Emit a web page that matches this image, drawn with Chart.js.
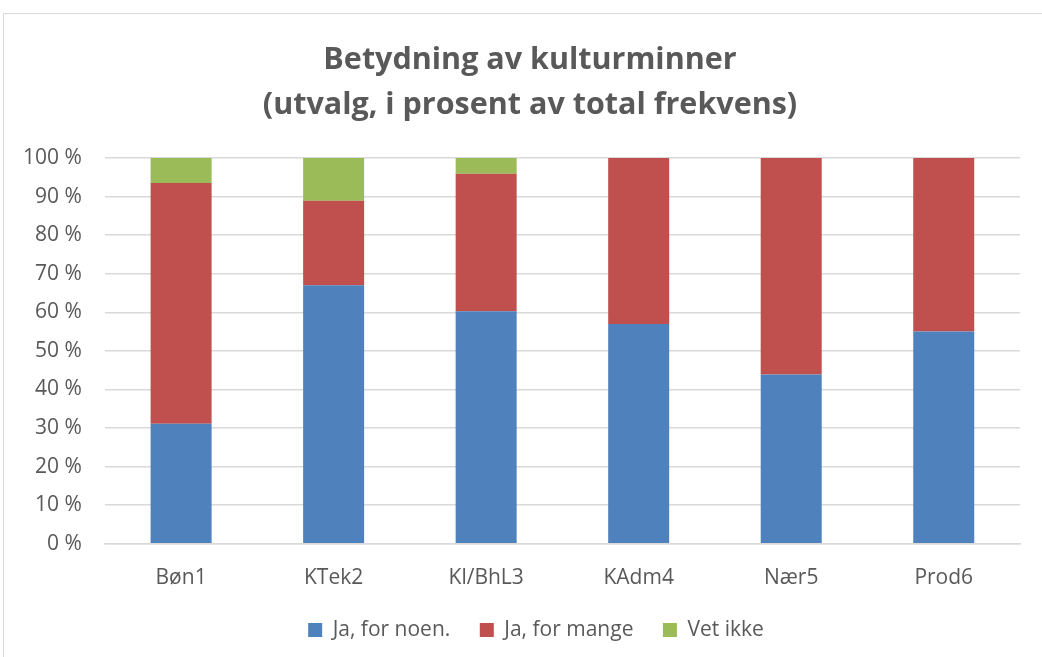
<!DOCTYPE html>
<html>
<head>
<meta charset="utf-8">
<script src="https://cdn.jsdelivr.net/npm/chart.js@4/dist/chart.umd.min.js"></script>
<style>
  html, body { margin: 0; padding: 0; background: #ffffff; }
  #frame { position: absolute; left: 3px; top: 13px; width: 1040px; height: 650px; border: 1px solid #d9d9d9; box-sizing: border-box; }
  #wrap { position: absolute; left: 0; top: 0; width: 1042px; height: 657px; }
</style>
</head>
<body>
<div id="frame"></div>
<div id="wrap"><canvas id="c" width="1042" height="657"></canvas></div>
<script>
const categories = ["Bøn1", "KTek2", "Kl/BhL3", "KAdm4", "Nær5", "Prod6"];
const jaNoen = [31.1, 67.0, 60.3, 57.0, 43.9, 55.0];
const jaMange = [62.4, 21.9, 35.6, 43.0, 56.1, 45.0];
const vetIkke = [6.5, 11.1, 4.1, 0, 0, 0];
const seriesNames = ["Ja, for noen.", "Ja, for mange", "Vet ikke"];
const titleLines = ["Betydning av kulturminner", "(utvalg, i prosent av total frekvens)"];

const FONT = "'Open Sans', sans-serif";
const TXT = "#595959";

const boxShift = {
  id: "boxShift",
  afterLayout(chart) {
    if (chart.legend) { chart.legend.left += 26; chart.legend.right += 26; }
    if (chart.titleBlock) { chart.titleBlock.left += 20; chart.titleBlock.right += 20; }
  }
};

new Chart(document.getElementById("c"), {
  type: "bar",
  data: {
    labels: categories,
    datasets: [
      { label: seriesNames[0], data: jaNoen, backgroundColor: "#4F81BD" },
      { label: seriesNames[1], data: jaMange, backgroundColor: "#C0504D" },
      { label: seriesNames[2], data: vetIkke, backgroundColor: "#9BBB59" }
    ]
  },
  plugins: [boxShift],
  options: {
    responsive: false,
    animation: false,
    layout: { padding: { left: 0, right: 22, top: 38, bottom: 6.5 } },
    datasets: { bar: { categoryPercentage: 1.0, barPercentage: 0.4, borderWidth: 0 } },
    scales: {
      x: {
        stacked: true,
        grid: { display: false, drawTicks: false },
        border: { color: "#d9d9d9", width: 1.5 },
        ticks: { color: TXT, font: { family: FONT, size: 21 }, padding: 21.5 },
        afterFit: s => { s.height -= 22; }
      },
      y: {
        stacked: true,
        min: 0, max: 100,
        grid: { color: "#d9d9d9", lineWidth: 1.5, drawTicks: false },
        border: { display: false },
        ticks: { stepSize: 10, color: TXT, font: { family: FONT, size: 21 }, padding: 23,
                 callback: v => v + " %" }
      }
    },
    plugins: {
      title: {
        display: true,
        text: titleLines,
        color: TXT,
        font: { family: FONT, size: 30.5, weight: "bold", lineHeight: 1.475 },
        padding: { top: 0, bottom: 30 }
      },
      legend: {
        position: "bottom",
        labels: { color: TXT, font: { family: FONT, size: 21 }, boxWidth: 14, boxHeight: 14, padding: 29.5 }
      },
      tooltip: { enabled: false }
    }
  }
});
</script>
</body>
</html>
